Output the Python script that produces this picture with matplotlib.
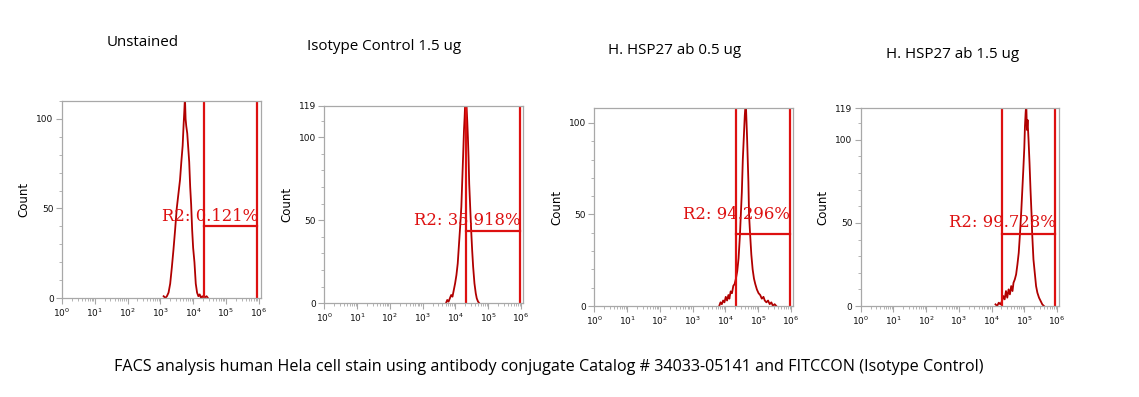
import matplotlib
matplotlib.use("Agg")
import matplotlib.pyplot as plt
from matplotlib.ticker import FixedLocator, LogLocator, NullFormatter, FuncFormatter
import numpy as np

# panel titles / labels
titles = ["Unstained", "Isotype Control 1.5 ug", "H. HSP27 ab 0.5 ug", "H. HSP27 ab 1.5 ug"]
r2_labels = ["R2: 0.121%", "R2: 35.918%", "R2: 94.296%", "R2: 99.728%"]
caption = ("FACS analysis human Hela cell stain using antibody conjugate "
           "Catalog # 34033-05141 and FITCCON (Isotype Control)")

# histogram outlines: log10(fluorescence) position and counts
unst_logx = [3.10, 3.15, 3.20, 3.25, 3.30, 3.35, 3.40, 3.45, 3.50, 3.55, 3.60, 3.64, 3.68,
             3.71, 3.73, 3.75, 3.77, 3.79, 3.82, 3.85, 3.88, 3.91, 3.94, 3.97, 4.00, 4.04,
             4.08, 4.12, 4.16, 4.20, 4.24, 4.28, 4.33, 4.41, 4.45]
unst_cnt = [1, 0, 1, 3, 8, 17, 27, 38, 50, 58, 66, 76, 85,
            97, 104, 112, 100, 96, 92, 84, 76, 62, 52, 38, 28, 20,
            8, 3, 1, 2, 0, 1, 0, 1, 0]

iso_logx = [3.71, 3.75, 3.79, 3.83, 3.87, 3.91, 3.95, 3.99, 4.03, 4.07, 4.10, 4.14, 4.18,
            4.21, 4.24, 4.26, 4.28, 4.30, 4.32, 4.34, 4.36, 4.38, 4.40, 4.42, 4.45, 4.48,
            4.51, 4.54, 4.58, 4.62, 4.65, 4.69, 4.73]
iso_cnt = [0, 2, 1, 3, 5, 4, 8, 12, 17, 24, 33, 45, 58,
           75, 92, 104, 112, 122, 125, 118, 110, 100, 88, 72, 58, 44,
           32, 22, 12, 6, 3, 1, 0]

ab05_logx = [3.81, 3.85, 3.89, 3.93, 3.97, 4.01, 4.05, 4.09, 4.12, 4.16, 4.20, 4.24, 4.28,
             4.32, 4.36, 4.40, 4.44, 4.47, 4.50, 4.53, 4.56, 4.59, 4.62, 4.64, 4.66, 4.68,
             4.70, 4.72, 4.75, 4.79, 4.83, 4.87, 4.91, 4.96, 5.01, 5.06, 5.11, 5.16, 5.20,
             5.25, 5.30, 5.35, 5.40, 5.45, 5.50, 5.55]
ab05_cnt = [0, 2, 1, 3, 2, 5, 3, 6, 4, 8, 7, 11, 12,
            15, 19, 26, 38, 50, 62, 80, 92, 104, 112, 102, 92, 80,
            68, 50, 40, 28, 20, 15, 12, 9, 7, 6, 4, 5, 3,
            2, 3, 1, 2, 0, 1, 0]

ab15_logx = [4.12, 4.17, 4.22, 4.27, 4.32, 4.36, 4.40, 4.44, 4.48, 4.52, 4.56, 4.60, 4.64,
             4.67, 4.71, 4.75, 4.79, 4.83, 4.87, 4.91, 4.94, 4.97, 5.00, 5.02, 5.04, 5.06,
             5.08, 5.10, 5.13, 5.16, 5.19, 5.22, 5.24, 5.28, 5.32, 5.36, 5.40, 5.45, 5.50,
             5.55, 5.60]
ab15_cnt = [1, 0, 2, 1, 3, 6, 4, 9, 5, 10, 7, 12, 9,
            14, 16, 19, 25, 32, 44, 58, 70, 82, 95, 108, 116, 122,
            106, 112, 100, 86, 70, 56, 44, 28, 20, 12, 8, 5, 3,
            1, 0]

hist_x = [unst_logx, iso_logx, ab05_logx, ab15_logx]
hist_y = [unst_cnt, iso_cnt, ab05_cnt, ab15_cnt]

# R2 gate: left / right edge (log10) and bar height (count)
gate_lo = [4.33, 4.31, 4.31, 4.31]
gate_hi = [5.96, 5.96, 5.96, 5.93]
gate_h = [40, 43.6, 39.3, 43.5]
label_y = [43, 47, 47.5, 47.4]
ymax = [110, 119, 108, 119]
yticks = [[0, 50, 100], [0, 50, 100, 119], [0, 50, 100], [0, 50, 100, 119]]

# axes boxes in pixels (left, right, top, bottom)
boxes = [(62, 261, 101, 298), (324.3, 523.3, 105.7, 303.3),
         (594.3, 793.3, 108.3, 306), (860.7, 1059.3, 108.3, 306)]
title_pos = [(143, 43), (384, 46), (675, 51), (953, 55)]

W, H = 1139, 397
fig = plt.figure(figsize=(W / 100, H / 100), dpi=100)
fig.patch.set_facecolor("white")

spine_c = "#a8a8a8"
hist_c = "#b00000"
gate_c = "#dd1010"


def fmt_pow(v, pos):
    e = int(round(np.log10(v)))
    return r"$\mathregular{10^{%d}}$" % e


for i in range(4):
    l, r, t, b = boxes[i]
    ax = fig.add_axes([l / W, 1 - b / H, (r - l) / W, (b - t) / H])
    ax.set_xscale("log")
    ax.set_xlim(1, 10 ** 6.07)
    ax.set_ylim(0, ymax[i])

    xs = [10 ** v for v in hist_x[i]]
    ax.plot(xs, hist_y[i], color=hist_c, lw=1.3)

    # gate
    ax.axvline(10 ** gate_lo[i], color=gate_c, lw=1.6)
    ax.axvline(10 ** gate_hi[i], color=gate_c, lw=1.6)
    ax.plot([10 ** gate_lo[i], 10 ** gate_hi[i]], [gate_h[i], gate_h[i]], color=gate_c, lw=1.6)
    ax.text(10 ** (gate_hi[i] + 0.02), label_y[i], r2_labels[i], color=gate_c,
            family="DejaVu Serif", fontsize=11.8, ha="right", va="baseline")

    for s in ax.spines.values():
        s.set_color(spine_c)
        s.set_linewidth(0.9)

    ax.yaxis.set_major_locator(FixedLocator(yticks[i]))
    ax.yaxis.set_minor_locator(FixedLocator(list(range(0, ymax[i] + 1, 10))))
    ax.xaxis.set_major_locator(LogLocator(base=10, numticks=10))
    ax.xaxis.set_minor_locator(LogLocator(base=10, subs=np.arange(2, 10), numticks=10))
    ax.xaxis.set_major_formatter(FuncFormatter(fmt_pow))
    ax.xaxis.set_minor_formatter(NullFormatter())
    ax.tick_params(which="major", length=4, width=0.8, color=spine_c, labelsize=6.5,
                   pad=2, labelcolor="#111111")
    ax.tick_params(which="minor", length=2, width=0.6, color=spine_c)
    ax.set_ylabel("Count", fontsize=8.5, labelpad=4)

    fig.text(title_pos[i][0] / W, 1 - title_pos[i][1] / H, titles[i],
             family="Open Sans", fontsize=10.9, ha="center", va="center")

fig.text(549 / W, 1 - 367 / H, caption, family="Open Sans", fontsize=11.6,
         ha="center", va="center")

fig.savefig("out.png", dpi=100, facecolor="white")
